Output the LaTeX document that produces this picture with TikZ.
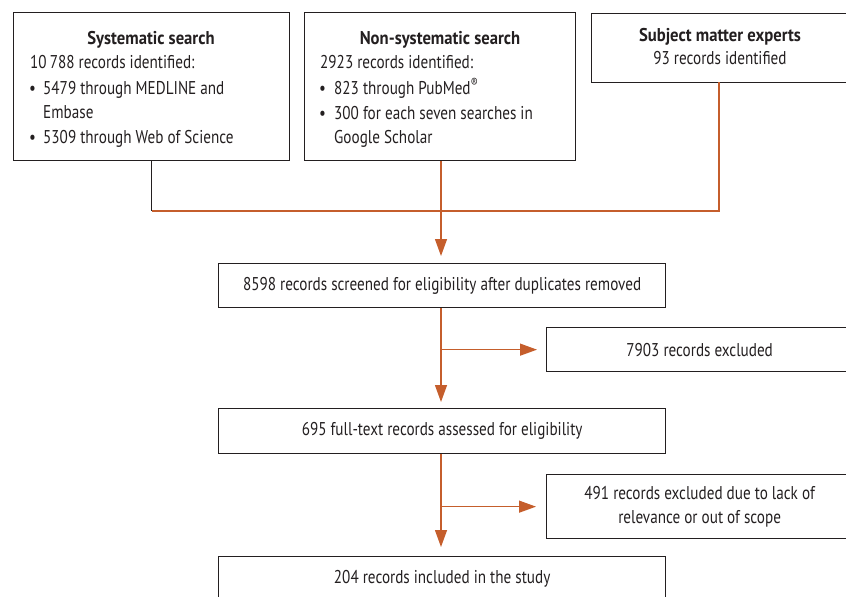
\documentclass[tikz,border=0pt]{standalone}
\usepackage{fontspec}
\setmainfont{PT Sans}[FakeStretch=0.82, BoldFeatures={FakeStretch=0.9}]
\usetikzlibrary{arrows.meta}
\definecolor{org}{RGB}{197,94,44}
\definecolor{ink}{RGB}{35,31,32}
\begin{document}
\begin{tikzpicture}[x=1pt,y=-1pt,
  every node/.style={font=\fontsize{18.5}{22}\selectfont, text=ink},
  box/.style={draw=ink, line width=1.3pt, inner sep=0pt, anchor=north west},
  txt/.style={inner sep=0pt, anchor=base west},
  ttl/.style={inner sep=0pt, anchor=base, font=\fontsize{18.5}{22}\selectfont\bfseries},
  link/.style={draw=org, line width=1.3pt},
  arr/.style={link, -{Triangle[length=17pt,width=12pt]}}]
\useasboundingbox (0,0) rectangle (846,597);
% top boxes
\node[box, minimum width=276pt, minimum height=148pt] (sys) at (13,12) {};
\node[box, minimum width=271pt, minimum height=148pt] (non) at (304,12) {};
\node[box, minimum width=258pt, minimum height=69pt] (sme) at (591,13) {};
% texts box 1
\node[ttl] (sysT) at (151,44) {Systematic search};
\node[txt] (sys1) at (30,68) {10\,788 records identified:};
\node[txt] (sysB1) at (29,94) {•};
\node[txt] (sys2) at (43,94) {5479 through MEDLINE and};
\node[txt] (sys3) at (43,118) {Embase};
\node[txt] (sysB2) at (29,143) {•};
\node[txt] (sys4) at (43,143) {5309 through Web of Science};
% texts box 2
\node[ttl] (nonT) at (440,44) {Non-systematic search};
\node[txt] (non1) at (320,68) {2923 records identified:};
\node[txt] (nonB1) at (319,94) {•};
\node[txt] (non2) at (334,94) {823 through PubMed\textsuperscript{®}};
\node[txt] (nonB2) at (319,119) {•};
\node[txt] (non3) at (334,119) {300 for each seven searches in};
\node[txt] (non4) at (334,143) {Google Scholar};
% texts box 3
\node[ttl] (smeT) at (720,41) {Subject matter experts};
\node[inner sep=0pt, anchor=base] (sme1) at (720,64) {93 records identified};
% flow boxes
\node[box, minimum width=447pt, minimum height=44pt] (scr) at (218,263) {8598 records screened for eligibility after duplicates removed};
\node[box, minimum width=306pt, minimum height=44pt] (ex1) at (546,327) {7903 records excluded};
\node[box, minimum width=447pt, minimum height=45pt] (full) at (218,408) {695 full-text records assessed for eligibility};
\node[box, minimum width=306pt, minimum height=64pt, align=center] (ex2) at (546,474) {491 records excluded due to lack of\\[2.5pt]relevance or out of scope};
\node[box, minimum width=447pt, minimum height=44pt] (inc) at (218,556) {204 records included in the study};
% connectors
\coordinate (jn) at (441,211);
\draw[draw=ink, line width=1.3pt] (sys.south) -- (sys.south |- jn);
\draw[link] (sys.south |- jn) -- (719,211) -- (719,82);
\draw[arr, shorten >=7pt] (non.south -| jn) -- (scr.north -| jn);
\draw[arr, shorten >=6pt] (scr.south -| jn) -- (full.north -| jn);
\draw[arr, shorten >=9pt] (ex1.west -| jn) -- (ex1.west);
\draw[arr, shorten >=9pt] (full.south -| jn) -- (inc.north -| jn);
\draw[arr, shorten >=10pt] (ex2.west -| jn) -- (ex2.west);
\end{tikzpicture}
\end{document}
